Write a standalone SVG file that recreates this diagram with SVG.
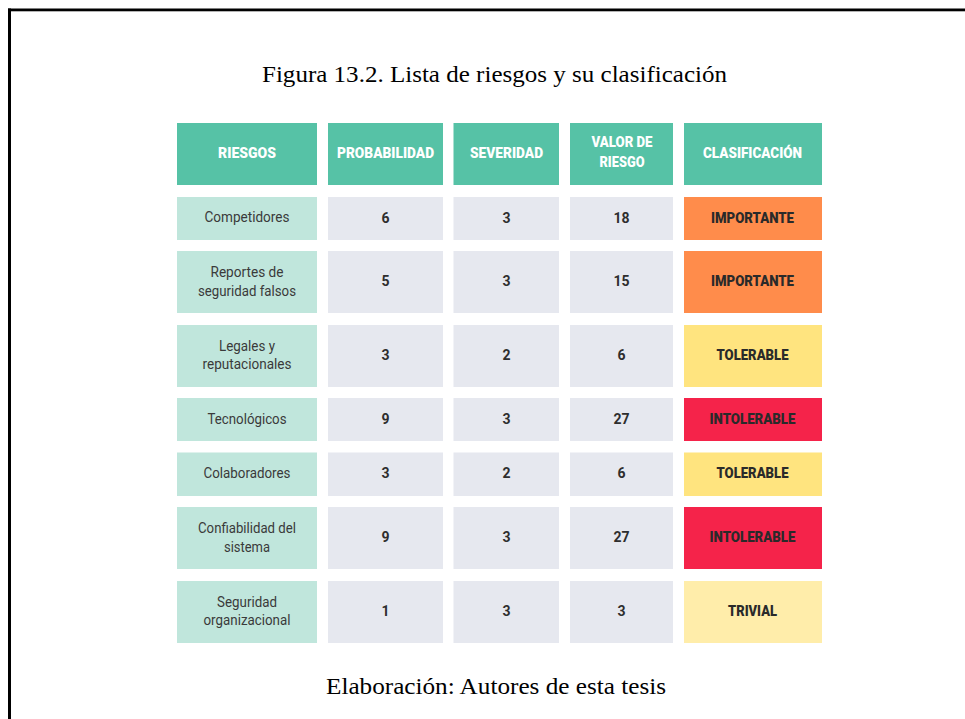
<svg xmlns="http://www.w3.org/2000/svg" width="965" height="719" viewBox="0 0 965 719">
<style>
.cap{font-family:"Liberation Serif","Times New Roman",serif;font-size:23px;fill:#000;text-anchor:middle}
.hd{fill:#56C2A6}
.nm{fill:#C0E6DC}
.nu{fill:#E6E8EF}
.imp{fill:#FF8C4B}
.tol{fill:#FFE47F}
.int{fill:#F5234A}
.tri{fill:#FFEDAA}
.ht{font-family:Roboto,"Liberation Sans",sans-serif;font-weight:900;font-size:14px;fill:#fff;text-anchor:middle}
.nt{font-family:Roboto,"Liberation Sans",sans-serif;font-weight:400;font-size:14px;fill:#3a3a3a;text-anchor:middle}
.vt{font-family:Roboto,"Liberation Sans",sans-serif;font-weight:700;font-size:14px;fill:#2e2e2e;text-anchor:middle}
.ct{font-family:Roboto,"Liberation Sans",sans-serif;font-weight:900;font-size:14px;fill:#2a2a2a;text-anchor:middle}
</style>
<rect x="0" y="0" width="965" height="719" fill="#fff"/>
<rect x="8" y="8.5" width="957" height="2.8" fill="#000"/>
<rect x="8" y="8.5" width="3" height="710.5" fill="#000"/>
<text class="cap" x="494.5" y="82" textLength="465" lengthAdjust="spacingAndGlyphs">Figura 13.2. Lista de riesgos y su clasificación</text>

<g id="header">
<rect class="hd" x="177" y="123" width="140" height="62"/>
<rect class="hd" x="328" y="123" width="115" height="62"/>
<rect class="hd" x="453.5" y="123" width="105.5" height="62"/>
<rect class="hd" x="570" y="123" width="103" height="62"/>
<rect class="hd" x="684" y="123" width="138" height="62"/>
<text class="ht" x="247" y="158" textLength="58" lengthAdjust="spacingAndGlyphs">RIESGOS</text>
<text class="ht" x="385.5" y="158" textLength="97" lengthAdjust="spacingAndGlyphs">PROBABILIDAD</text>
<text class="ht" x="506.5" y="158" textLength="73" lengthAdjust="spacingAndGlyphs">SEVERIDAD</text>
<text class="ht" x="622" y="147" textLength="61" lengthAdjust="spacingAndGlyphs">VALOR DE</text>
<text class="ht" x="622" y="167" textLength="45" lengthAdjust="spacingAndGlyphs">RIESGO</text>
<text class="ht" x="752.5" y="158" textLength="99" lengthAdjust="spacingAndGlyphs">CLASIFICACIÓN</text>
</g>

<g id="row-competidores">
<rect class="nm" x="177" y="197" width="140" height="43"/>
<rect class="nu" x="328" y="197" width="115" height="43"/>
<rect class="nu" x="453.5" y="197" width="105.5" height="43"/>
<rect class="nu" x="570" y="197" width="103" height="43"/>
<rect class="imp" x="684" y="197" width="138" height="43"/>
<text class="nt" x="247" y="222" textLength="85" lengthAdjust="spacingAndGlyphs">Competidores</text>
<text class="vt" x="385.5" y="222.5">6</text>
<text class="vt" x="506.5" y="222.5">3</text>
<text class="vt" x="621.5" y="222.5">18</text>
<text class="ct" x="752.5" y="222.5" textLength="83" lengthAdjust="spacingAndGlyphs">IMPORTANTE</text>
</g>

<g id="row-reportes">
<rect class="nm" x="177" y="251" width="140" height="62"/>
<rect class="nu" x="328" y="251" width="115" height="62"/>
<rect class="nu" x="453.5" y="251" width="105.5" height="62"/>
<rect class="nu" x="570" y="251" width="103" height="62"/>
<rect class="imp" x="684" y="251" width="138" height="62"/>
<text class="nt" x="247" y="277" textLength="73" lengthAdjust="spacingAndGlyphs">Reportes de</text>
<text class="nt" x="247" y="295.5" textLength="98" lengthAdjust="spacingAndGlyphs">seguridad falsos</text>
<text class="vt" x="385.5" y="286">5</text>
<text class="vt" x="506.5" y="286">3</text>
<text class="vt" x="621.5" y="286">15</text>
<text class="ct" x="752.5" y="286" textLength="83" lengthAdjust="spacingAndGlyphs">IMPORTANTE</text>
</g>

<g id="row-legales">
<rect class="nm" x="177" y="325" width="140" height="62"/>
<rect class="nu" x="328" y="325" width="115" height="62"/>
<rect class="nu" x="453.5" y="325" width="105.5" height="62"/>
<rect class="nu" x="570" y="325" width="103" height="62"/>
<rect class="tol" x="684" y="325" width="138" height="62"/>
<text class="nt" x="247" y="351" textLength="56" lengthAdjust="spacingAndGlyphs">Legales y</text>
<text class="nt" x="247" y="369" textLength="89" lengthAdjust="spacingAndGlyphs">reputacionales</text>
<text class="vt" x="385.5" y="359.5">3</text>
<text class="vt" x="506.5" y="359.5">2</text>
<text class="vt" x="621.5" y="359.5">6</text>
<text class="ct" x="752.5" y="359.5" textLength="72" lengthAdjust="spacingAndGlyphs">TOLERABLE</text>
</g>

<g id="row-tecnologicos">
<rect class="nm" x="177" y="398" width="140" height="43"/>
<rect class="nu" x="328" y="398" width="115" height="43"/>
<rect class="nu" x="453.5" y="398" width="105.5" height="43"/>
<rect class="nu" x="570" y="398" width="103" height="43"/>
<rect class="int" x="684" y="398" width="138" height="43"/>
<text class="nt" x="247" y="423.5" textLength="79" lengthAdjust="spacingAndGlyphs">Tecnológicos</text>
<text class="vt" x="385.5" y="423.5">9</text>
<text class="vt" x="506.5" y="423.5">3</text>
<text class="vt" x="621.5" y="423.5">27</text>
<text class="ct" x="752.5" y="423.5" textLength="86" lengthAdjust="spacingAndGlyphs">INTOLERABLE</text>
</g>

<g id="row-colaboradores">
<rect class="nm" x="177" y="452.5" width="140" height="43.5"/>
<rect class="nu" x="328" y="452.5" width="115" height="43.5"/>
<rect class="nu" x="453.5" y="452.5" width="105.5" height="43.5"/>
<rect class="nu" x="570" y="452.5" width="103" height="43.5"/>
<rect class="tol" x="684" y="452.5" width="138" height="43.5"/>
<text class="nt" x="247" y="478" textLength="87" lengthAdjust="spacingAndGlyphs">Colaboradores</text>
<text class="vt" x="385.5" y="478">3</text>
<text class="vt" x="506.5" y="478">2</text>
<text class="vt" x="621.5" y="478">6</text>
<text class="ct" x="752.5" y="478" textLength="72" lengthAdjust="spacingAndGlyphs">TOLERABLE</text>
</g>

<g id="row-confiabilidad">
<rect class="nm" x="177" y="507" width="140" height="62"/>
<rect class="nu" x="328" y="507" width="115" height="62"/>
<rect class="nu" x="453.5" y="507" width="105.5" height="62"/>
<rect class="nu" x="570" y="507" width="103" height="62"/>
<rect class="int" x="684" y="507" width="138" height="62"/>
<text class="nt" x="247" y="533" textLength="98" lengthAdjust="spacingAndGlyphs">Confiabilidad del</text>
<text class="nt" x="247" y="551.5" textLength="46" lengthAdjust="spacingAndGlyphs">sistema</text>
<text class="vt" x="385.5" y="542">9</text>
<text class="vt" x="506.5" y="542">3</text>
<text class="vt" x="621.5" y="542">27</text>
<text class="ct" x="752.5" y="542" textLength="86" lengthAdjust="spacingAndGlyphs">INTOLERABLE</text>
</g>

<g id="row-seguridad">
<rect class="nm" x="177" y="581" width="140" height="62"/>
<rect class="nu" x="328" y="581" width="115" height="62"/>
<rect class="nu" x="453.5" y="581" width="105.5" height="62"/>
<rect class="nu" x="570" y="581" width="103" height="62"/>
<rect class="tri" x="684" y="581" width="138" height="62"/>
<text class="nt" x="247" y="606.5" textLength="60" lengthAdjust="spacingAndGlyphs">Seguridad</text>
<text class="nt" x="247" y="625" textLength="87" lengthAdjust="spacingAndGlyphs">organizacional</text>
<text class="vt" x="385.5" y="616">1</text>
<text class="vt" x="506.5" y="616">3</text>
<text class="vt" x="621.5" y="616">3</text>
<text class="ct" x="752.5" y="616" textLength="49" lengthAdjust="spacingAndGlyphs">TRIVIAL</text>
</g>

<text class="cap" x="496" y="694" textLength="340" lengthAdjust="spacingAndGlyphs">Elaboración: Autores de esta tesis</text>
</svg>
